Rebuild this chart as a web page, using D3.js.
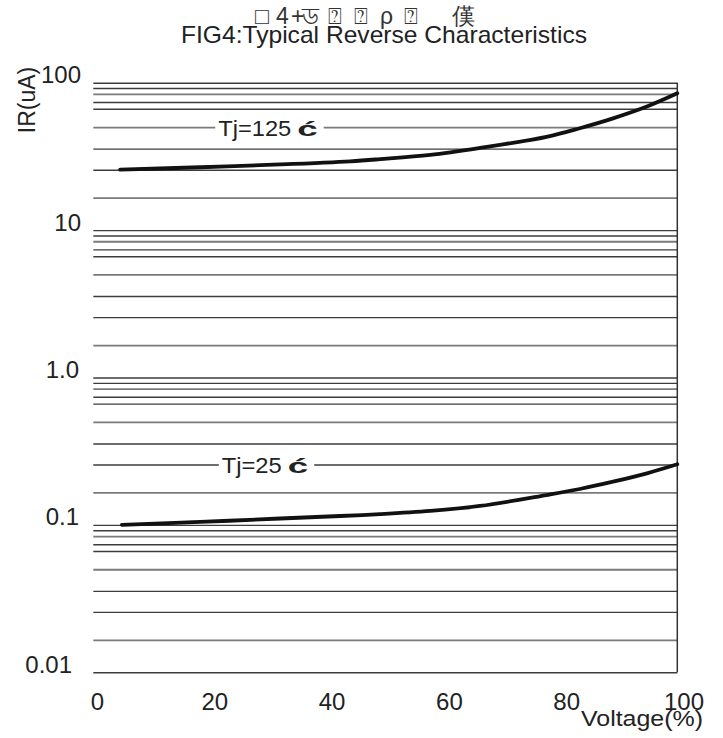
<!DOCTYPE html>
<html>
<head>
<meta charset="utf-8">
<script src="https://cdn.jsdelivr.net/npm/d3@7"></script>
<style>
  html, body { margin: 0; padding: 0; background: #fff; }
  svg { display: block; }
  text { font-family: "Liberation Sans", Arial, sans-serif; fill: #222; }
</style>
</head>
<body>
<svg id="chart" width="723" height="738"></svg>
<script>
// ---- data ----
const titleGarbled = "□4+ড⍰⍰ρ⍰傼";
const titleMain = "FIG4:Typical  Reverse Characteristics";
const yAxisTitle = "IR(uA)";
const xAxisTitle = "Voltage(%)";

const xTickValues = [0, 20, 40, 60, 80, 100];
const xTickLabels = ["0", "20", "40", "60", "80", "100"];
const yTickValues = [100, 10, 1, 0.1, 0.01];
const yTickLabels = ["100", "10", "1.0", "0.1", "0.01"];

// grid lines (the printed grid is not exactly logarithmic)
const decadeTops = [100, 10, 1, 0.1];
const gridMantissas = [10, 9.2, 8.4, 7.4, 6.65, 5.0, 3.57, 2.57, 1.66];
const bottomGridValue = 0.01;

const seriesNames = ["Tj=125", "Tj=25"];
const voltage125 = [4.6, 18.3, 32.0, 44.0, 49.1, 57.7, 66.2, 77.6, 83.3, 89.0, 94.8, 100];
const current125 = [25.7, 26.7, 27.9, 29.3, 30.3, 32.4, 36.1, 42.9, 49.1, 57.3, 68.9, 84.7];
const voltage25 = [4.9, 18.3, 32.0, 42.3, 49.1, 57.7, 66.2, 77.6, 83.3, 89.0, 94.8, 100];
const current25 = [0.100, 0.1047, 0.1105, 0.1149, 0.1183, 0.1244, 0.1344, 0.1595, 0.1752, 0.1964, 0.2239, 0.2577];

const labelVoltage = [21.4, 22.0];
const labelCurrent = [50, 0.257];
const degreeGlyph = "ć";

// ---- drawing ----
const svg = d3.select("#chart");
const x = d3.scaleLinear().domain([0, 100]).range([93.3, 677.3]);
const xLabel = d3.scaleLinear().domain([0, 100]).range([97.5, 684]);
const y = d3.scaleLog().domain([0.01, 100]).range([672.3, 82.7]);

const gridValues = [];
decadeTops.forEach(t => gridMantissas.forEach(m => gridValues.push(t * m / 10)));
gridValues.push(bottomGridValue);

// gridlines via axis
const gridAxis = d3.axisLeft(y).tickValues(gridValues).tickSize(-(x(100) - x(0))).tickFormat("");
const gg = svg.append("g").attr("transform", `translate(${x(0)},0)`).call(gridAxis);
gg.select(".domain").remove();
gg.selectAll(".tick line")
  .attr("stroke", (d, i) => (i % 3 === 2 ? "#7a7a7a" : "#3c3c3c"))
  .attr("stroke-width", (d, i) => (i % 3 === 2 ? 1.8 : 1.4));

// right border
svg.append("line")
  .attr("x1", x(100)).attr("x2", x(100))
  .attr("y1", y(100)).attr("y2", y(0.01))
  .attr("stroke", "#333").attr("stroke-width", 1.5);

// y tick labels
const yTickRight = { "100": 81, "10": 81, "1.0": 79, "0.1": 79, "0.01": 72 };
svg.append("g").selectAll("text").data(yTickValues).join("text")
  .attr("x", (d, i) => yTickRight[yTickLabels[i]])
  .attr("y", d => y(d) + 0.5)
  .attr("text-anchor", "end")
  .attr("font-size", 24)
  .text((d, i) => yTickLabels[i]);

// x tick labels
svg.append("g").selectAll("text").data(xTickValues).join("text")
  .attr("x", d => xLabel(d))
  .attr("y", 710)
  .attr("text-anchor", "middle")
  .attr("font-size", 24)
  .text((d, i) => xTickLabels[i]);

// axis titles
svg.append("text")
  .attr("transform", "translate(35,100) rotate(-90)")
  .attr("text-anchor", "middle")
  .attr("font-size", 23)
  .text(yAxisTitle);

svg.append("text")
  .attr("x", 703).attr("y", 726)
  .attr("text-anchor", "end")
  .attr("font-size", 22.5)
  .attr("textLength", 122).attr("lengthAdjust", "spacingAndGlyphs")
  .text(xAxisTitle);

// main title
svg.append("text")
  .attr("x", 384).attr("y", 43)
  .attr("text-anchor", "middle")
  .attr("font-size", 24)
  .attr("textLength", 406).attr("lengthAdjust", "spacingAndGlyphs")
  .text(titleMain);

// garbled first title line: a single text, each character given its own x
const garbledX = [255, 276, 291, 302, 328, 354, 380, 404, 452];
svg.append("text")
  .attr("x", garbledX.join(" "))
  .attr("y", 24)
  .attr("font-family", "'DejaVu Sans', 'DejaVu Sans Mono', 'Noto Sans CJK SC', sans-serif")
  .attr("font-size", 23)
  .style("fill", "#333")
  .text(titleGarbled);

// curves
const line = d3.line().x(d => x(d[0])).y(d => y(d[1])).curve(d3.curveCatmullRom.alpha(0.5));
const series = [
  d3.zip(voltage125, current125),
  d3.zip(voltage25, current25)
];
svg.append("g").selectAll("path").data(series).join("path")
  .attr("d", line)
  .attr("fill", "none")
  .attr("stroke", "#111")
  .attr("stroke-width", 3.8)
  .attr("stroke-linecap", "round");

// curve labels with white background breaking the gridline
seriesNames.forEach((name, i) => {
  const g = svg.append("g");
  const bg = g.append("rect").attr("fill", "#fff");
  const lx = x(labelVoltage[i]);
  const ly = y(labelCurrent[i]) + 8.5;
  const t = g.append("text")
    .attr("x", lx)
    .attr("y", ly)
    .attr("font-size", 22)
    .attr("textLength", i === 0 ? 73 : 60).attr("lengthAdjust", "spacingAndGlyphs")
    .text(name);
  const bb = t.node().getBBox();
  const gx = bb.x + bb.width + 6;
  const deg = g.append("text")
    .attr("transform", `translate(${gx},${ly}) scale(1.75,1)`)
    .attr("font-family", "'DejaVu Sans', sans-serif")
    .attr("font-size", 21)
    .attr("font-weight", "bold")
    .text(degreeGlyph);
  const db = deg.node().getBoundingClientRect();
  const right = db.right + 6;
  bg.attr("x", bb.x - 3).attr("y", bb.y).attr("width", right - (bb.x - 3)).attr("height", bb.height);
});
</script>
</body>
</html>
